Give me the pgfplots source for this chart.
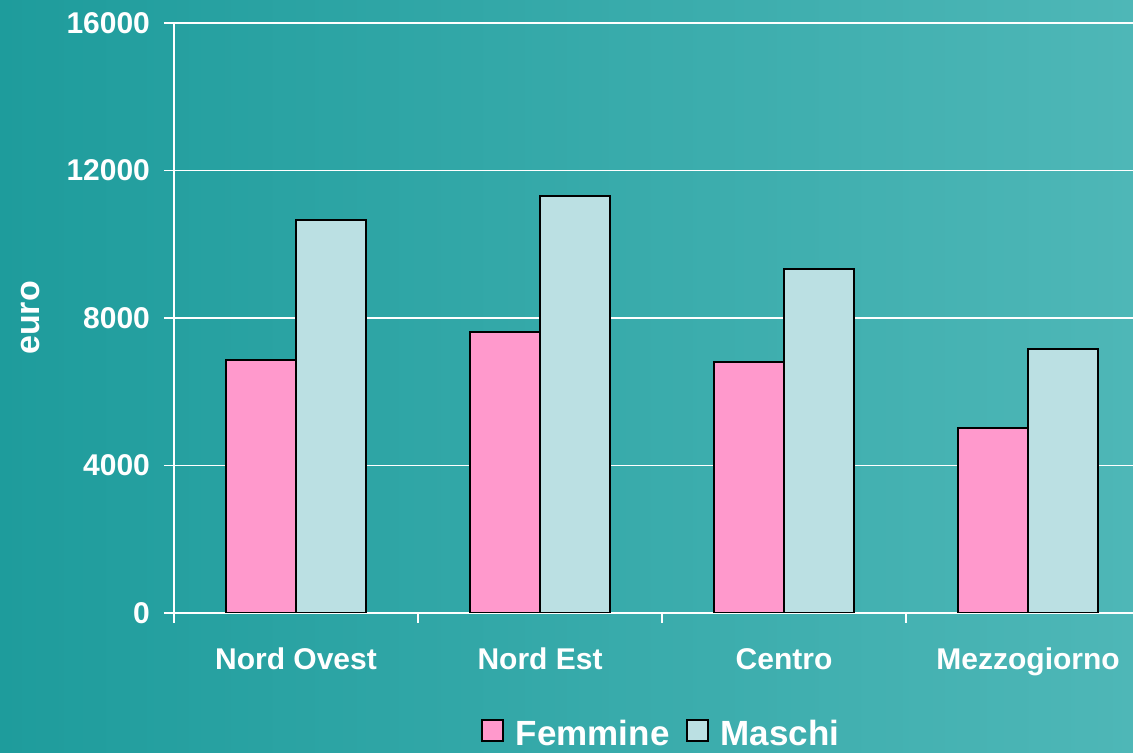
\documentclass[border=0pt]{standalone}
\usepackage{fontspec}
\setmainfont{Liberation Sans}
\usepackage{pgfplots}
\pgfplotsset{compat=1.18}
\definecolor{bgL}{RGB}{30,156,156}
\definecolor{bgR}{RGB}{78,183,183}
\definecolor{fem}{RGB}{255,153,204}
\definecolor{mas}{RGB}{187,224,227}
\pgfplotsset{sqleg/.style={legend image code/.code={\draw[##1, line width=1pt] (0pt,-3.1pt) rectangle (10.5pt,7.4pt);}}}
\begin{document}
\begin{tikzpicture}
\shade[left color=bgL,right color=bgR] (0,0) rectangle (566.5pt,376.5pt);
\begin{axis}[
  at={(87pt,70pt)}, anchor=south west,
  scale only axis, width=479.5pt, height=295pt,
  xmin=-0.5, xmax=3.43, ymin=0, ymax=16000,
  axis x line*=bottom, axis y line*=left,
  axis line style={white, line width=0.9pt},
  ytick={0,4000,8000,12000,16000},
  ymajorgrids, grid style={white, line width=0.9pt},
  tick align=outside,
  major tick length=5pt,
  tick style={white, line width=0.9pt},
  xtick={-0.5,0.5,1.5,2.5}, xticklabels={},
  extra x ticks={0,1,2,3},
  extra x tick labels={Nord Ovest,Nord Est,Centro,Mezzogiorno},
  extra x tick style={major tick length=0pt, grid=none, xticklabel style={anchor=base, yshift=-28.5pt}},
  ticklabel style={font=\fontsize{15}{18}\selectfont\bfseries, text=white},
  /pgf/number format/assume math mode=true,
  scaled y ticks=false,
  yticklabel style={/pgf/number format/set thousands separator={}, xshift=-3.5pt},
  ylabel={euro},
  ylabel style={at={(axis description cs:-0.150,0.5)}, anchor=center, font=\fontsize{17}{20}\selectfont\bfseries, text=white},
  ybar, bar width=0.287,
  legend columns=-1,
  legend style={at={(axis description cs:0.5089,-0.206)}, anchor=center, draw=none, fill=none,
    font=\fontsize{17.5}{21}\selectfont\bfseries, text=white,
    /tikz/every odd column/.append style={column sep=4pt},
    /tikz/every even column/.append style={column sep=6pt}},
]
\addplot[fill=fem, draw=black, line width=1pt, bar shift=-0.1435, sqleg] coordinates {(0,6860) (1,7625) (2,6800) (3,5020)};
\addplot[fill=mas, draw=black, line width=1pt, bar shift=0.1435, sqleg] coordinates {(0,10650) (1,11320) (2,9315) (3,7165)};
\legend{Femmine,Maschi}
\end{axis}
\pgfresetboundingbox
\path[use as bounding box] (0,0) rectangle (566.5pt,376.5pt);
\end{tikzpicture}
\end{document}
